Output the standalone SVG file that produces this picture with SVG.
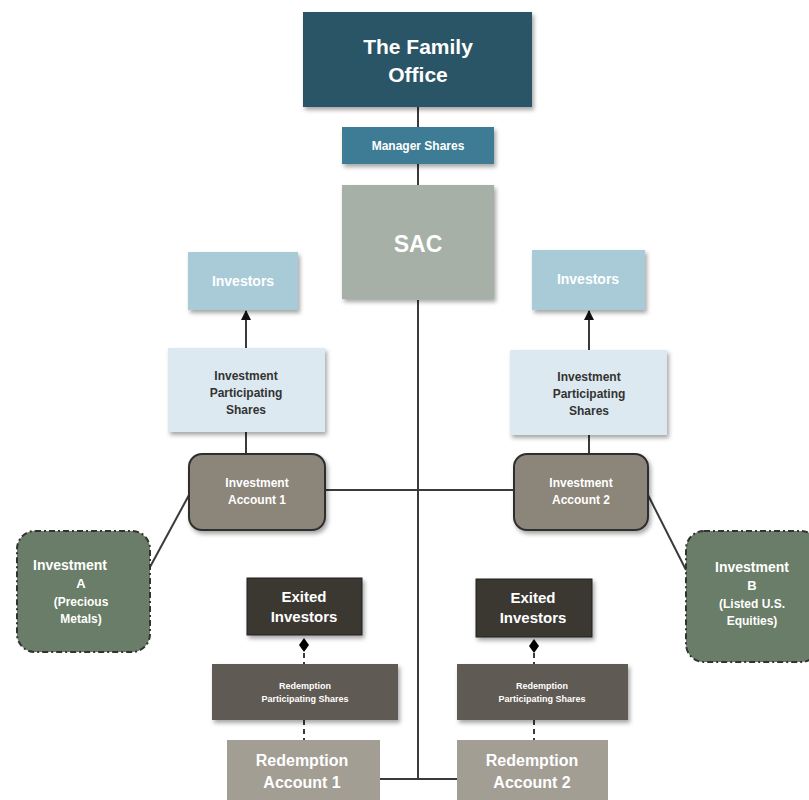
<svg xmlns="http://www.w3.org/2000/svg" width="809" height="800" viewBox="0 0 809 800">
<style>
text{font-family:"Liberation Sans",Arial,sans-serif;font-weight:bold;text-anchor:middle}
.w{fill:#ffffff}
.d{fill:#333333}
.c{stroke:#3a3a3a;stroke-width:2;fill:none}
.dash{stroke:#3a3a3a;stroke-width:2;fill:none;stroke-dasharray:5,4}
</style>
<defs>
<filter id="sh" x="-10%" y="-10%" width="130%" height="140%">
<feDropShadow dx="2" dy="3" stdDeviation="2" flood-color="#000" flood-opacity="0.35"/>
</filter>
<marker id="arr" viewBox="0 0 10 10" refX="9" refY="5" markerWidth="5" markerHeight="5" orient="auto">
<path d="M0,0 L10,5 L0,10 z" fill="#111"/>
</marker>
<marker id="dia" viewBox="0 0 10 10" refX="0" refY="5" markerWidth="6" markerHeight="6" orient="auto">
<path d="M0,5 L5,1 L10,5 L5,9 z" fill="#000"/>
</marker>
</defs>
<rect width="809" height="800" fill="#ffffff"/>
<g id="connectors">
<line class="c" x1="418" y1="107" x2="418" y2="127"/>
<line class="c" x1="418" y1="164" x2="418" y2="185"/>
<line class="c" x1="418" y1="300" x2="418" y2="779"/>
<line class="c" x1="380" y1="779" x2="457" y2="779"/>
<line class="c" x1="325" y1="490" x2="514" y2="490"/>
<line class="c" x1="246" y1="432" x2="246" y2="453"/>
<line class="c" x1="589" y1="435" x2="589" y2="453"/>
<line class="c" x1="246" y1="348" x2="246" y2="311" marker-end="url(#arr)"/>
<line class="c" x1="589" y1="350" x2="589" y2="311" marker-end="url(#arr)"/>
<line class="c" x1="189" y1="495" x2="150" y2="567"/>
<line class="c" x1="648" y1="495" x2="686" y2="570"/>
<line class="dash" x1="304" y1="653" x2="304" y2="664"/>
<line class="dash" x1="304" y1="720" x2="304" y2="740"/>
<line class="dash" x1="534" y1="653" x2="534" y2="664"/>
<line class="dash" x1="534" y1="720" x2="534" y2="740"/>
<path d="M304,638 L309,645 L304,652 L299,645 z" fill="#000"/>
<path d="M534,639 L539,646 L534,653 L529,646 z" fill="#000"/>
</g>
<g id="family-office">
<rect x="303" y="12" width="229" height="95" fill="#2c5566" filter="url(#sh)"/>
<text class="w" x="418" y="54" font-size="21">The Family</text>
<text class="w" x="418" y="82" font-size="21">Office</text>
</g>
<g id="manager-shares">
<rect x="342" y="127" width="152" height="37" fill="#3e7b94" filter="url(#sh)"/>
<text class="w" x="418" y="150" font-size="12">Manager Shares</text>
</g>
<g id="sac">
<rect x="342" y="185" width="152" height="114" fill="#a6b0a6" filter="url(#sh)"/>
<text class="w" x="418" y="252" font-size="23">SAC</text>
</g>
<g id="investors-1">
<rect x="188" y="252" width="110" height="58" fill="#a9cbd8" filter="url(#sh)"/>
<text class="w" x="243" y="286" font-size="14">Investors</text>
</g>
<g id="investors-2">
<rect x="532" y="250" width="113" height="60" fill="#a9cbd8" filter="url(#sh)"/>
<text class="w" x="588" y="284" font-size="14">Investors</text>
</g>
<g id="ips-1">
<rect x="168" y="348" width="157" height="84" fill="#dde9f0" filter="url(#sh)"/>
<text class="d" x="246" y="380" font-size="12">Investment</text>
<text class="d" x="246" y="397" font-size="12">Participating</text>
<text class="d" x="246" y="414" font-size="12">Shares</text>
</g>
<g id="ips-2">
<rect x="510" y="350" width="157" height="85" fill="#dde9f0" filter="url(#sh)"/>
<text class="d" x="589" y="381" font-size="12">Investment</text>
<text class="d" x="589" y="398" font-size="12">Participating</text>
<text class="d" x="589" y="415" font-size="12">Shares</text>
</g>
<g id="investment-account-1">
<rect x="189" y="454" width="136" height="76" rx="13" fill="#8c857a" stroke="#2f2f2f" stroke-width="2" filter="url(#sh)"/>
<text class="w" x="257" y="487" font-size="12">Investment</text>
<text class="w" x="257" y="504" font-size="12">Account 1</text>
</g>
<g id="investment-account-2">
<rect x="514" y="454" width="134" height="76" rx="13" fill="#8c857a" stroke="#2f2f2f" stroke-width="2" filter="url(#sh)"/>
<text class="w" x="581" y="487" font-size="12">Investment</text>
<text class="w" x="581" y="504" font-size="12">Account 2</text>
</g>
<g id="investment-a">
<rect x="17" y="531" width="133" height="121" rx="18" fill="#6a7d68" stroke="#333" stroke-width="2" stroke-dasharray="6,3,2,3"/>
<text class="w" x="70" y="570" font-size="14">Investment</text>
<text class="w" x="81" y="588" font-size="13">A</text>
<text class="w" x="81" y="606" font-size="12">(Precious</text>
<text class="w" x="81" y="623" font-size="12">Metals)</text>
</g>
<g id="investment-b">
<rect x="686" y="531" width="133" height="131" rx="18" fill="#6a7d68" stroke="#333" stroke-width="2" stroke-dasharray="6,3,2,3"/>
<text class="w" x="752" y="572" font-size="14">Investment</text>
<text class="w" x="752" y="590" font-size="13">B</text>
<text class="w" x="752" y="608" font-size="12">(Listed U.S.</text>
<text class="w" x="752" y="625" font-size="12">Equities)</text>
</g>
<g id="exited-investors-1">
<rect x="247" y="578" width="115" height="57" fill="#3b3733" stroke="#222" stroke-width="1" filter="url(#sh)"/>
<text class="w" x="304" y="602" font-size="15">Exited</text>
<text class="w" x="304" y="622" font-size="15">Investors</text>
</g>
<g id="exited-investors-2">
<rect x="476" y="579" width="116" height="58" fill="#3b3733" stroke="#222" stroke-width="1" filter="url(#sh)"/>
<text class="w" x="533" y="603" font-size="15">Exited</text>
<text class="w" x="533" y="623" font-size="15">Investors</text>
</g>
<g id="rps-1">
<rect x="212" y="664" width="186" height="56" fill="#5f5a52" filter="url(#sh)"/>
<text class="w" x="305" y="689" font-size="9">Redemption</text>
<text class="w" x="305" y="702" font-size="9">Participating Shares</text>
</g>
<g id="rps-2">
<rect x="457" y="664" width="171" height="56" fill="#5f5a52" filter="url(#sh)"/>
<text class="w" x="542" y="689" font-size="9">Redemption</text>
<text class="w" x="542" y="702" font-size="9">Participating Shares</text>
</g>
<g id="redemption-account-1">
<rect x="227" y="740" width="153" height="62" fill="#a39e94"/>
<text class="w" x="302" y="766" font-size="16">Redemption</text>
<text class="w" x="302" y="788" font-size="16">Account 1</text>
</g>
<g id="redemption-account-2">
<rect x="457" y="740" width="151" height="62" fill="#a39e94"/>
<text class="w" x="532" y="766" font-size="16">Redemption</text>
<text class="w" x="532" y="788" font-size="16">Account 2</text>
</g>
</svg>
